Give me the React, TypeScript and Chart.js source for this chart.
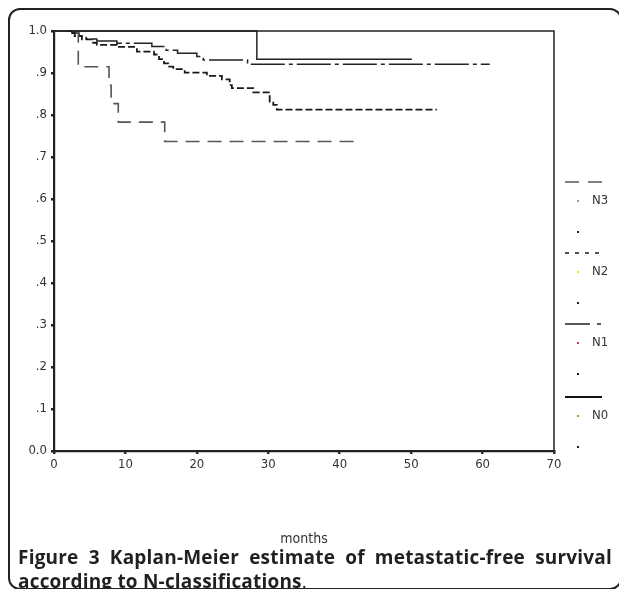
import React, { useEffect, useRef } from "react";
import { Chart, registerables } from "chart.js";

Chart.register(...registerables);

// ---- data ----
const seriesNames = ["N3", "N2", "N1", "N0"];

const n3Months = [0, 3.4, 7.7, 8.0, 9.0, 15.5, 42.0];
const n3Surv = [1, 0.915, 0.871, 0.827, 0.783, 0.737, 0.737];

const n2Months = [0, 2.4, 2.9, 3.9, 5.3, 6.0, 8.8, 11.6, 14.0, 14.7, 15.4, 16.0, 16.7, 18.3, 21.4, 23.5, 24.6, 24.9, 27.9, 30.2, 30.7, 31.2, 53.6];
const n2Surv = [1, 0.995, 0.988, 0.98, 0.972, 0.967, 0.962, 0.951, 0.944, 0.933, 0.923, 0.915, 0.909, 0.901, 0.893, 0.885, 0.871, 0.864, 0.854, 0.832, 0.824, 0.813, 0.813];

const n1Months = [0, 2.5, 3.5, 4.5, 6.0, 8.8, 13.7, 15.7, 17.3, 20.0, 20.9, 27.1, 61.0];
const n1Surv = [1, 0.995, 0.988, 0.981, 0.976, 0.971, 0.963, 0.954, 0.947, 0.939, 0.931, 0.921, 0.921];

const n0Months = [0, 28.4, 50.1];
const n0Surv = [1, 0.933, 0.933];

const xTickValues = [0, 10, 20, 30, 40, 50, 60, 70];
const yTickLabels = ["0.0", ".1", ".2", ".3", ".4", ".5", ".6", ".7", ".8", ".9", "1.0"];

const legendDotColors = ["#9a9a9a", "#f2e400", "#b8387f", "#5cbf2a"];

const captionLine1 = "Figure 3 Kaplan-Meier estimate of metastatic-free survival";
const captionLine2 = "according to N-classifications";

// ---- styles ----
const styles = [
  { dash: [14, 8], color: "#555", width: 1.6 },
  { dash: [7, 3], color: "#1a1a1a", width: 1.8 },
  { dash: [34, 4, 4, 4], color: "#222", width: 1.5 },
  { dash: [], color: "#222", width: 1.5 },
];

const toPoints = (xs: number[], ys: number[]) => xs.map((x, i) => ({ x, y: ys[i] }));

const TICK_FONT = { family: "'DejaVu Sans Condensed', 'DejaVu Sans', sans-serif", size: 13 };

const framePlugin = {
  id: "frameAndLegend",
  afterDraw(chart: any) {
    const { ctx, chartArea } = chart;
    const { left, right, top, bottom } = chartArea;
    ctx.save();
    ctx.strokeStyle = "#222";
    ctx.lineWidth = 1.5;
    ctx.setLineDash([]);
    ctx.beginPath();
    ctx.moveTo(left, top);
    ctx.lineTo(right, top);
    ctx.lineTo(right, bottom);
    ctx.stroke();

    const groupOffsets = [151, 222, 293, 366];
    seriesNames.forEach((name, i) => {
      const st = styles[i];
      const y = top + groupOffsets[i];
      ctx.strokeStyle = i === 3 ? "#111" : st.color;
      ctx.lineWidth = i === 3 ? 2.2 : 1.6;
      ctx.setLineDash(i === 0 ? [14, 9] : i === 1 ? [4, 6] : i === 2 ? [25, 7, 4, 10] : []);
      ctx.beginPath();
      ctx.moveTo(right + 11, y);
      ctx.lineTo(right + 48, y);
      ctx.stroke();
      ctx.setLineDash([]);
      ctx.fillStyle = legendDotColors[i];
      ctx.fillRect(right + 23, y + 18, 2, 2);
      ctx.fillStyle = "#222";
      ctx.fillRect(right + 23, y + 49, 2, 2);
      ctx.fillStyle = "#333";
      ctx.font = "13px 'DejaVu Sans Condensed', 'DejaVu Sans', sans-serif";
      ctx.textBaseline = "middle";
      ctx.textAlign = "left";
      ctx.fillText(name, right + 38, y + 19);
    });
    ctx.restore();
  },
};

function KMChart() {
  const ref = useRef<HTMLCanvasElement | null>(null);
  useEffect(() => {
    if (!ref.current) return;
    const all = [
      toPoints(n3Months, n3Surv),
      toPoints(n2Months, n2Surv),
      toPoints(n1Months, n1Surv),
      toPoints(n0Months, n0Surv),
    ];
    const chart = new Chart(ref.current, {
      type: "line",
      data: {
        datasets: all.map((d, i) => ({
          label: seriesNames[i],
          data: d,
          stepped: "before" as const,
          borderColor: styles[i].color,
          borderWidth: styles[i].width,
          borderDash: styles[i].dash,
          pointRadius: 0,
          fill: false,
          clip: 4,
        })),
      },
      options: {
        animation: false,
        responsive: false,
        maintainAspectRatio: false,
        layout: { padding: { left: 0, right: 66, top: 21, bottom: 0 } },
        plugins: { legend: { display: false }, tooltip: { enabled: false } },
        scales: {
          x: {
            type: "linear",
            min: 0,
            max: 70,
            afterBuildTicks: (scale: any) => {
              scale.ticks = xTickValues.map((v) => ({ value: v }));
            },
            afterFit: (scale: any) => {
              scale.height = 97;
            },
            grid: {
              display: true,
              drawOnChartArea: false,
              drawTicks: true,
              tickLength: 3,
              lineWidth: 2.5,
              color: "#222",
            },
            border: { display: true, color: "#222", width: 2.2 },
            ticks: { color: "#333", font: TICK_FONT, padding: 3, maxRotation: 0 },
            title: {
              display: true,
              text: "months",
              color: "#333",
              font: { family: "'DejaVu Sans Condensed', 'DejaVu Sans', sans-serif", size: 14 },
              padding: 0,
            },
          },
          y: {
            type: "linear",
            min: 0,
            max: 1,
            afterBuildTicks: (scale: any) => {
              scale.ticks = yTickLabels.map((_, i) => ({ value: i / 10 }));
            },
            afterFit: (scale: any) => {
              scale.width = 44;
            },
            grid: {
              display: true,
              drawOnChartArea: false,
              drawTicks: true,
              tickLength: 3,
              lineWidth: 2.5,
              color: "#222",
            },
            border: { display: true, color: "#222", width: 2.2 },
            ticks: {
              color: "#333",
              font: TICK_FONT,
              padding: 4,
              callback: (_v: any, i: number) => yTickLabels[i],
            },
          },
        },
      },
      plugins: [framePlugin],
    });
    return () => chart.destroy();
  }, []);
  return <canvas ref={ref} width={610} height={538} style={{ display: "block", position: "absolute", left: 0, top: 0 }} />;
}

export default function App() {
  const captionStyle: React.CSSProperties = {
    fontFamily: "'Open Sans', 'Noto Sans', sans-serif",
    fontWeight: 700,
    fontSize: 19,
    letterSpacing: "0.2px",
    lineHeight: "24px",
    color: "#231f20",
    whiteSpace: "nowrap",
  };
  return (
    <div
      style={{
        position: "relative",
        width: 610,
        height: 578,
        border: "2px solid #222",
        borderRadius: 12,
        background: "#fff",
      }}
    >
      <KMChart />
      <div style={{ position: "absolute", left: 8, top: 535, width: 594 }}>
        <div style={{ ...captionStyle, whiteSpace: "normal", textAlign: "justify", textAlignLast: "justify" }}>
          {captionLine1}
        </div>
        <div style={captionStyle}>
          {captionLine2}
          <span style={{ fontWeight: 400 }}>.</span>
        </div>
      </div>
    </div>
  );
}
